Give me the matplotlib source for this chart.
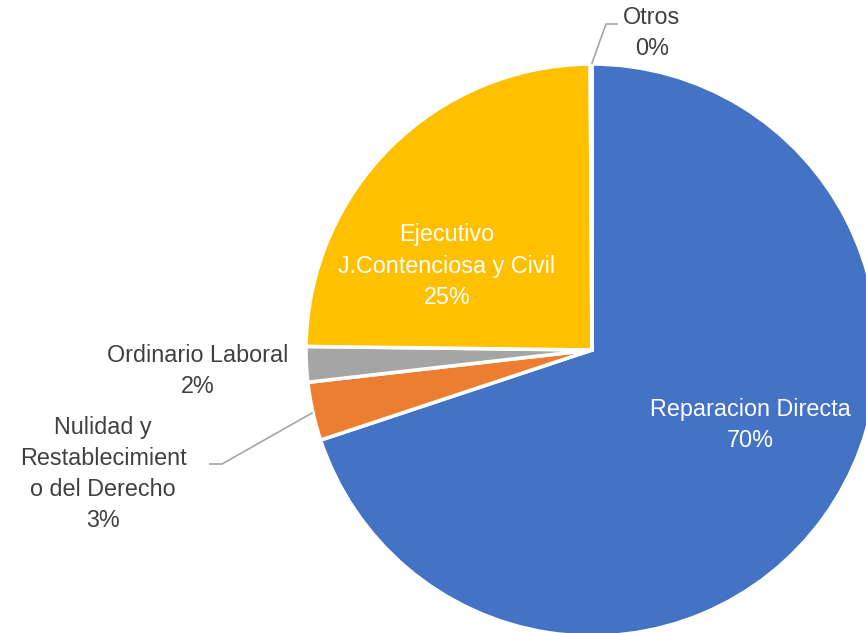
import matplotlib.pyplot as plt

# Data
categories = ["Reparacion Directa", "Nulidad y\nRestablecimient\no del Derecho",
              "Ordinario Laboral", "Ejecutivo\nJ.Contenciosa y Civil", "Otros"]
shares = [69.9, 3.3, 2.0, 24.7, 0.1]
colors = ["#4472C4", "#ED7D31", "#A5A5A5", "#FFC000", "#5B9BD5"]

W, H = 866, 633
fig = plt.figure(figsize=(W / 100, H / 100), dpi=100)
ax = fig.add_axes([0, 0, 1, 1])

cx, cy, r = 592, H - 350, 286
ax.pie(shares, colors=colors, startangle=90, counterclock=False,
       center=(cx, cy), radius=r,
       wedgeprops=dict(edgecolor="white", linewidth=2.6))
ax.set_xlim(0, W)
ax.set_ylim(0, H)
ax.set_aspect("equal")
ax.axis("off")

font = "Liberation Sans"
fs = 16.8
dark = "#404040"

def lab(i, x, y, color):
    ax.text(x, H - y, f"{categories[i]}\n{shares[i]:.0f}%", ha="center", va="center",
            color=color, fontsize=fs, family=font, linespacing=1.45)

lab(0, 750, 425, "white")
lab(3, 447, 266, "white")
lab(2, 198, 371, dark)
lab(1, 103, 474, dark)
lab(4, 652, 33, dark)

# leader lines
ax.plot([592, 606, 617], [H - 63, H - 24, H - 24], color="#A6A6A6", lw=1.2)
ax.plot([312, 222, 210], [H - 413, H - 464, H - 464], color="#A6A6A6", lw=1.2)

fig.savefig("out.png", dpi=100)
